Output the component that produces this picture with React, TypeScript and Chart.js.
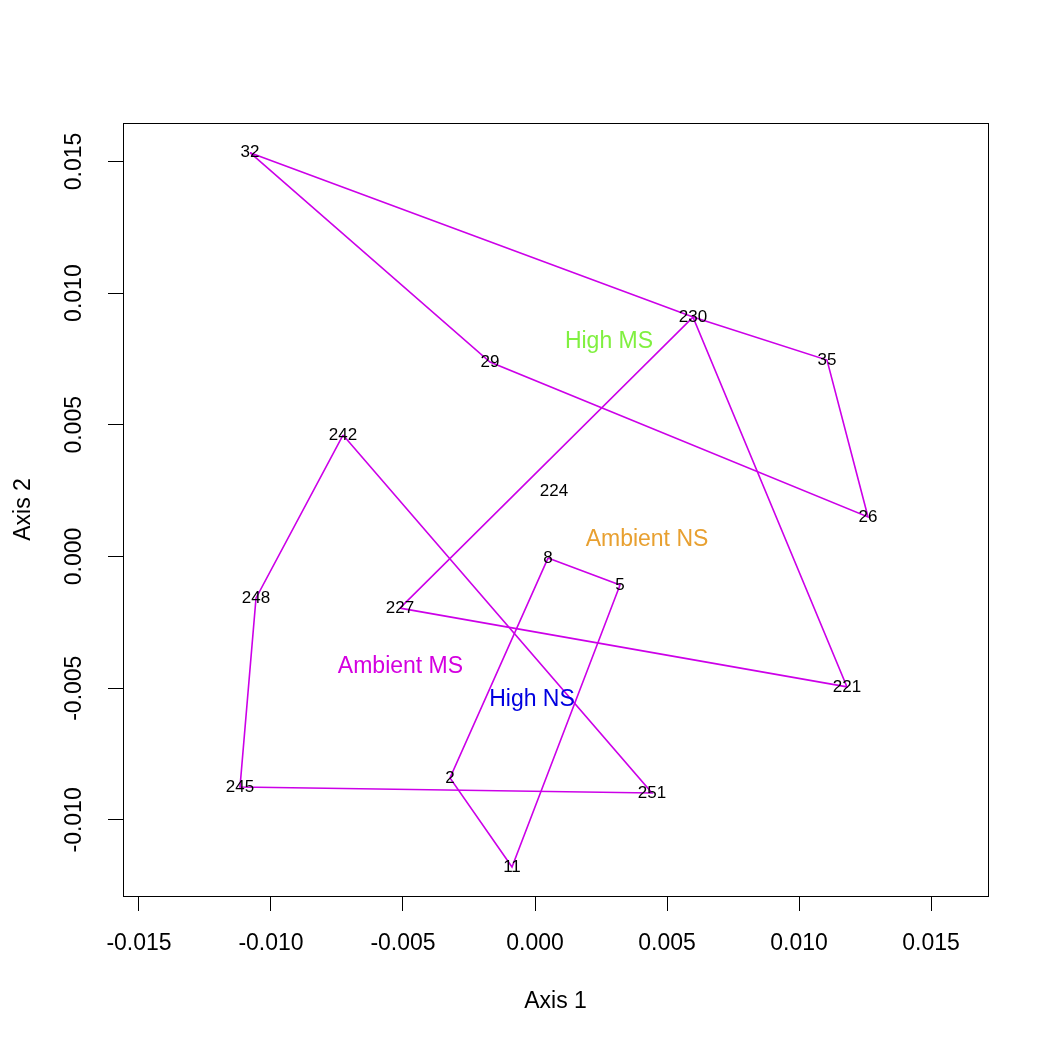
import React, { useEffect, useRef } from "react";
import { Chart, registerables } from "chart.js";

Chart.register(...registerables);

// ---- data ----
const sampleIds = ["32", "29", "230", "35", "26", "242", "248", "227", "8", "5", "221", "245", "2", "251", "11", "224"];
const sampleX = [-0.010795, -0.001705, 0.005985, 0.011061, 0.012614, -0.007273, -0.010568, -0.005114, 0.000492, 0.00322, 0.011818, -0.011174, -0.00322, 0.004432, -0.000871, 0.00072];
const sampleY = [0.01533, 0.00738, 0.00909, 0.00746, 0.0015, 0.00461, -0.00158, -0.00196, -0.00006, -0.00108, -0.00495, -0.00875, -0.00841, -0.00898, -0.01179, 0.00249];

const hullHighMS = ["32", "230", "35", "26", "29"];
const hullAmbientNS = ["227", "230", "221"];
const hullHighNS = ["8", "5", "11", "2"];
const hullAmbientMS = ["242", "248", "245", "251"];

const groupNames = ["High MS", "Ambient NS", "Ambient MS", "High NS"];
const groupX = [0.002803, 0.004242, -0.005095, -0.000114];
const groupY = [0.008144, 0.000626, -0.004195, -0.005448];
const groupColors = ["#80F040", "#E8A030", "#D400E0", "#0000E0"];

const xTicks = [-0.015, -0.01, -0.005, 0, 0.005, 0.01, 0.015];
const xTickLabels = ["-0.015", "-0.010", "-0.005", "0.000", "0.005", "0.010", "0.015"];
const yTicks = [-0.01, -0.005, 0, 0.005, 0.01, 0.015];
const yTickLabels = ["-0.010", "-0.005", "0.000", "0.005", "0.010", "0.015"];

const xMin = -0.015606;
const xMax = 0.017159;
const yMin = -0.012889;
const yMax = 0.016458;

const LINE_COLOR = "#CC00E8";
const FONT = "'Liberation Sans', Arial, Helvetica, sans-serif";

function hullPoints(ids: string[]) {
  const pts = ids.map((id) => {
    const i = sampleIds.indexOf(id);
    return { x: sampleX[i], y: sampleY[i] };
  });
  pts.push(pts[0]);
  return pts;
}

const labelPlugin = {
  id: "labelPlugin",
  beforeDatasetsDraw(chart: any) {
    const { ctx, chartArea } = chart;
    ctx.save();
    ctx.strokeStyle = "#000";
    ctx.lineWidth = 1;
    ctx.strokeRect(
      Math.round(chartArea.left) + 0.5,
      Math.round(chartArea.top) + 0.5,
      Math.round(chartArea.right - chartArea.left),
      Math.round(chartArea.bottom - chartArea.top)
    );
    ctx.restore();
  },
  afterDatasetsDraw(chart: any) {
    const { ctx } = chart;
    const xs = chart.scales.x;
    const ys = chart.scales.y;
    ctx.save();
    ctx.textAlign = "center";
    ctx.textBaseline = "middle";
    ctx.fillStyle = "#000";
    ctx.font = `17px ${FONT}`;
    sampleIds.forEach((id, i) => {
      ctx.fillText(id, xs.getPixelForValue(sampleX[i]), ys.getPixelForValue(sampleY[i]));
    });
    ctx.font = `23px ${FONT}`;
    groupNames.forEach((g, i) => {
      ctx.fillStyle = groupColors[i];
      ctx.fillText(g, xs.getPixelForValue(groupX[i]), ys.getPixelForValue(groupY[i]));
    });
    ctx.restore();
  },
};

export default function App() {
  const ref = useRef<HTMLCanvasElement | null>(null);
  useEffect(() => {
    if (!ref.current) return;
    const mk = (label: string, ids: string[]) => ({
      label,
      data: hullPoints(ids),
      showLine: true,
      borderColor: LINE_COLOR,
      backgroundColor: LINE_COLOR,
      borderWidth: 1.6,
      pointRadius: 0,
      fill: false,
      tension: 0,
    });
    const chart = new Chart(ref.current, {
      type: "scatter",
      data: {
        datasets: [
          mk("High MS", hullHighMS),
          mk("Ambient NS", hullAmbientNS),
          mk("High NS", hullHighNS),
          mk("Ambient MS", hullAmbientMS),
        ],
      },
      options: {
        responsive: false,
        animation: false,
        layout: { padding: { top: 123, right: 62, left: 0, bottom: 0 } },
        plugins: { legend: { display: false }, tooltip: { enabled: false } },
        scales: {
          x: {
            type: "linear",
            min: xMin,
            max: xMax,
            afterBuildTicks: (s: any) => {
              s.ticks = xTicks.map((v) => ({ value: v }));
            },
            afterFit: (s: any) => {
              s.height = 154;
            },
            grid: { drawOnChartArea: false, drawTicks: true, tickLength: 15, color: "#000", lineWidth: 1 },
            border: { display: false },
            ticks: {
              callback: (_v: any, i: number) => xTickLabels[i],
              font: { family: FONT, size: 23 },
              color: "#000",
              padding: 19,
              maxRotation: 0,
              minRotation: 0,
              autoSkip: false,
            },
            title: {
              display: true,
              text: "Axis 1",
              font: { family: FONT, size: 23 },
              color: "#000",
              padding: { top: 0, bottom: 35 },
            },
          },
          y: {
            type: "linear",
            min: yMin,
            max: yMax,
            afterBuildTicks: (s: any) => {
              s.ticks = yTicks.map((v) => ({ value: v }));
            },
            afterFit: (s: any) => {
              s.width = 123;
            },
            grid: { drawOnChartArea: false, drawTicks: true, tickLength: 15, color: "#000", lineWidth: 1 },
            border: { display: false },
            ticks: {
              callback: (_v: any, i: number) => yTickLabels[i],
              font: { family: FONT, size: 23 },
              color: "#000",
              padding: 1,
              minRotation: 90,
              maxRotation: 90,
              crossAlign: "center",
              autoSkip: false,
            },
            title: {
              display: true,
              text: "Axis 2",
              font: { family: FONT, size: 23 },
              color: "#000",
              padding: { top: 10, bottom: 0 },
            },
          },
        },
      } as any,
      plugins: [labelPlugin],
    });
    return () => chart.destroy();
  }, []);
  return (
    <div style={{ position: "fixed", left: 0, top: 0, width: 1050, height: 1050, background: "#fff" }}>
      <canvas ref={ref} width={1050} height={1050} style={{ width: 1050, height: 1050 }} />
    </div>
  );
}
